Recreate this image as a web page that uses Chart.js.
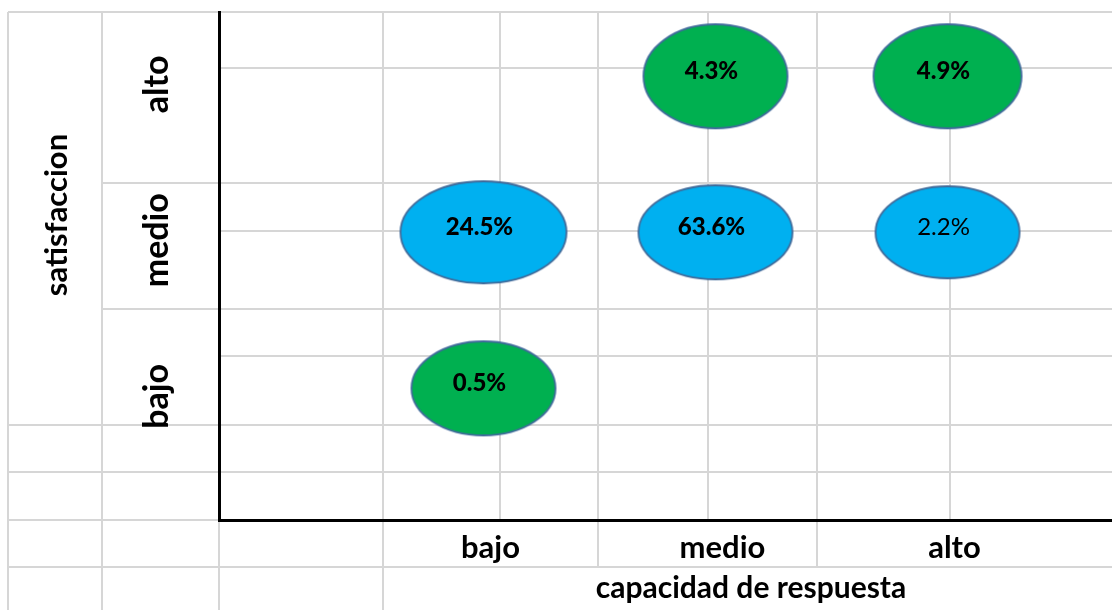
<!DOCTYPE html>
<html><head><meta charset="utf-8">
<script src="https://cdn.jsdelivr.net/npm/chart.js@4"></script>
<style>html,body{margin:0;padding:0;background:#fff;}#wrap{width:1112px;height:610px;position:relative;overflow:hidden;background:#fff}</style>
</head><body><div id="wrap"><canvas id="c" width="1112" height="610"></canvas></div>
<script>
// ---------------- DATA ----------------
const capacidadLevels = ['bajo', 'medio', 'alto'];      // x-axis categories (tick labels)
const satisfaccionLevels = ['bajo', 'medio', 'alto'];   // y-axis categories (tick labels)
const pointCapacidad = ['medio', 'alto', 'bajo', 'medio', 'alto', 'bajo'];
const pointSatisfaccion = ['alto', 'alto', 'medio', 'medio', 'medio', 'bajo'];
const pointPercent = [4.3, 4.9, 24.5, 63.6, 2.2, 0.5];
const xAxisTitle = 'capacidad de respuesta';
const yAxisTitle = 'satisfaccion';

// ---------------- STYLE ----------------
const FONT = 'Lato';
const rowFill = { bajo: '#00B050', medio: '#00B0F0', alto: '#00B050' };
const ellipseRadii = [[72, 52], [74, 52], [83, 51], [77, 47], [72, 46], [72, 47]];
const labelWeight = ['900', '900', '900', '900', 'normal', '900'];
const gridColor = '#d6d6d6';
// spreadsheet cell borders behind the chart: [x, y1, y2] and [y, x1, x2]
const sheetV = [[8, 12, 610], [102, 12, 610], [219, 520, 610], [383, 12, 610], [500, 12, 520],
                [598, 12, 567], [708, 12, 520], [817, 12, 567], [950, 12, 520]];
const sheetH = [[12, 8, 1112], [68, 219, 1112], [183, 102, 1112], [231, 219, 1112], [309, 102, 1112],
                [356, 219, 1112], [425, 8, 1112], [472, 8, 1112], [520, 8, 219], [567, 8, 1112]];

function ellipseCanvas(rx, ry, fill) {
  const pad = 2;
  const c = document.createElement('canvas');
  c.width = Math.round(2 * rx + 2 * pad);
  c.height = Math.round(2 * ry + 2 * pad);
  const g = c.getContext('2d');
  g.beginPath();
  g.ellipse(c.width / 2, c.height / 2, rx, ry, 0, 0, Math.PI * 2);
  g.fillStyle = fill; g.fill();
  g.lineWidth = 1.8; g.strokeStyle = '#3f6a9a'; g.stroke();
  return c;
}

const points = pointPercent.map((v, i) => ({
  x: capacidadLevels.indexOf(pointCapacidad[i]) + 1,
  y: satisfaccionLevels.indexOf(pointSatisfaccion[i]) + 1,
  v: v
}));
const pointImages = points.map((p, i) => ellipseCanvas(ellipseRadii[i][0], ellipseRadii[i][1], rowFill[pointSatisfaccion[i]]));

const xTickFont = { family: FONT, size: 31, weight: 'bold', lineHeight: 1.2 };
const yTickFont = { family: FONT, size: 34, weight: 'bold', lineHeight: 1.2 };
const mctx = document.createElement('canvas').getContext('2d');
mctx.font = 'bold 34px ' + FONT;
const widestY = Math.max(...satisfaccionLevels.map(t => mctx.measureText(t).width));
const yTickPad = 219 - 157 - widestY / 2;

const sheetGrid = {
  id: 'sheetGrid',
  beforeDraw(chart) {
    const ctx = chart.ctx;
    ctx.save();
    ctx.fillStyle = '#fff';
    ctx.fillRect(0, 0, chart.width, chart.height);
    ctx.strokeStyle = gridColor; ctx.lineWidth = 2;
    ctx.beginPath();
    sheetV.forEach(([x, y1, y2]) => { ctx.moveTo(x, y1); ctx.lineTo(x, y2); });
    sheetH.forEach(([y, x1, x2]) => { ctx.moveTo(x1, y); ctx.lineTo(x2, y); });
    ctx.stroke();
    ctx.restore();
  }
};

const bubbleLabels = {
  id: 'bubbleLabels',
  afterDatasetsDraw(chart) {
    const ctx = chart.ctx;
    const meta = chart.getDatasetMeta(0);
    ctx.save();
    ctx.fillStyle = '#000';
    ctx.textAlign = 'center';
    ctx.textBaseline = 'middle';
    meta.data.forEach((el, i) => {
      ctx.font = labelWeight[i] + ' 24px ' + FONT;
      ctx.fillText(pointPercent[i].toFixed(1) + '%', el.x - 4, el.y - 5);
    });
    ctx.restore();
  }
};

const axisTitles = {
  id: 'axisTitles',
  afterDraw(chart) {
    const ctx = chart.ctx;
    ctx.save();
    ctx.fillStyle = '#000';
    ctx.textAlign = 'center';
    ctx.textBaseline = 'alphabetic';
    ctx.font = 'bold 30px ' + FONT;
    ctx.fillText(xAxisTitle, 751, 598);
    ctx.translate(67, 215);
    ctx.rotate(-Math.PI / 2);
    ctx.font = 'bold 31px ' + FONT;
    ctx.fillText(yAxisTitle, 0, 0);
    ctx.restore();
  }
};

new Chart(document.getElementById('c'), {
  type: 'scatter',
  data: {
    datasets: [{
      data: points,
      pointStyle: pointImages,
      radius: 3,
      hoverRadius: 3
    }]
  },
  options: {
    responsive: false,
    animation: false,
    events: [],
    layout: { autoPadding: false, padding: { top: 12, left: 0, right: 0, bottom: 0 } },
    plugins: { legend: { display: false }, tooltip: { enabled: false } },
    scales: {
      x: {
        type: 'linear', bounds: 'data', min: -0.140, max: 3.709,
        afterBuildTicks: s => { s.ticks = capacidadLevels.map((_, i) => ({ value: i + 1 })); },
        afterFit: s => { s.height = 90; s.paddingLeft = 0; s.paddingRight = 0; },
        grid: { display: false, drawTicks: false },
        border: { display: true, color: '#000', width: 3 },
        ticks: { color: '#000', font: xTickFont, padding: 9, labelOffset: 7, autoSkip: false, maxRotation: 0,
                 callback: (v, i) => capacidadLevels[i] }
      },
      y: {
        type: 'linear', bounds: 'data', min: 0.156, max: 3.412,
        afterBuildTicks: s => { s.ticks = satisfaccionLevels.map((_, i) => ({ value: i + 1 })); },
        afterFit: s => { s.width = 219; s.paddingTop = 0; s.paddingBottom = 0; },
        grid: { display: false, drawTicks: false },
        border: { display: true, color: '#000', width: 3 },
        ticks: { color: '#000', font: yTickFont, padding: yTickPad, labelOffset: 8, autoSkip: false,
                 minRotation: 90, maxRotation: 90, crossAlign: 'center',
                 callback: (v, i) => satisfaccionLevels[i] }
      }
    }
  },
  plugins: [sheetGrid, bubbleLabels, axisTitles]
});
</script></body></html>
